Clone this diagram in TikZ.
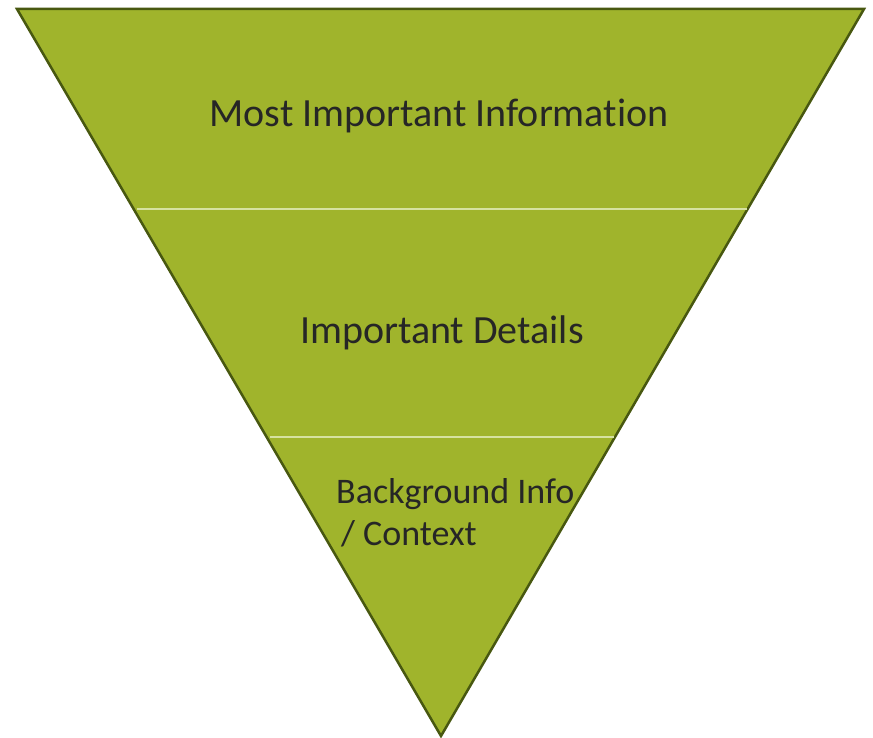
\documentclass[tikz,border=0pt]{standalone}
\usepackage{fontspec}
\setmainfont{Carlito}[Ligatures=NoCommon]
\usetikzlibrary{calc}
\definecolor{funnel}{RGB}{160,180,44}
\definecolor{funnelrim}{RGB}{72,88,16}
\definecolor{seam}{RGB}{214,226,160}
\definecolor{ink}{RGB}{38,38,38}
\tikzset{layer/.style={text=ink,inner sep=0pt,
    font=\fontsize{40}{42}\selectfont}}

\begin{document}
\begin{tikzpicture}[x=1pt,y=-1pt]
\useasboundingbox (0,0) rectangle (873,738);
% the funnel itself
\coordinate (tl) at (17,9);
\coordinate (tr) at (864,9);
\coordinate (tip) at (441,736);
\draw[funnelrim,fill=funnel,line width=2.5pt,line join=miter]
  (tl) -- (tr) -- (tip) -- cycle;
% seams between the bands
\foreach \t in {0.2751,0.5887}
  \draw[seam,line width=1.5pt]
    ($(tl)!\t!(tip)+(3,0)$) -- ($(tr)!\t!(tip)+(-1,0)$);
% band labels
\node[layer,anchor=base] (most) at (439,127) {Most Important Information};
\node[layer,anchor=base] (details) at (442,343) {Important Details};
\node[layer,anchor=base west,align=left,font=\fontsize{36}{42}\selectfont]
  (context) at (336,545) {Background Info\\ \hspace{5pt}/ Context};
\end{tikzpicture}
\end{document}
